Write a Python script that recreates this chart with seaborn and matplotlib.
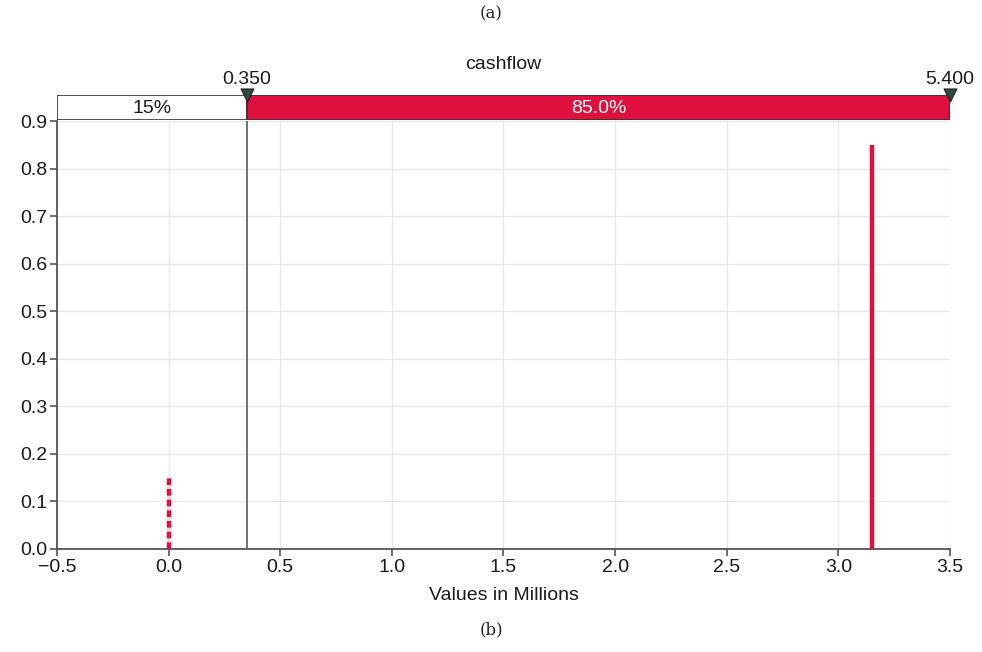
import matplotlib
matplotlib.use("Agg")
import matplotlib.pyplot as plt
import seaborn as sns
import pandas as pd

# Discrete outcomes of the cashflow (in millions) and their probabilities
outcome_values = [0.0, 3.15]
outcome_probs = [0.15, 0.85]
outcome_styles = ["dashed", "solid"]

# Delimiter markers shown above the plot and the share on each side
delimiters = [0.350, 5.400]
delimiter_labels = ["0.350", "5.400"]
band_shares = ["15%", "85.0%"]

x_ticks = [-0.5, 0.0, 0.5, 1.0, 1.5, 2.0, 2.5, 3.0, 3.5]
y_ticks = [0.0, 0.1, 0.2, 0.3, 0.4, 0.5, 0.6, 0.7, 0.8, 0.9]

RED = "#E0103E"
SPINE = "#555555"
FS = 14

sns.set_theme(style="whitegrid")
plt.rcParams["font.family"] = ["Liberation Sans", "DejaVu Sans"]

fig = plt.figure(figsize=(9.82, 6.52), dpi=100)
ax = fig.add_axes([0.058, 0.158, 0.9094, 0.6564])
band = fig.add_axes([0.058, 0.816, 0.9094, 0.038], sharex=ax)

df = pd.DataFrame({"value": outcome_values, "prob": outcome_probs,
                   "style": outcome_styles})

# Probability stems
for _, row in df.iterrows():
    if row["style"] == "dashed":
        ax.vlines(row["value"], 0, row["prob"], color=RED, lw=3.2,
                  linestyles=(0, (1.5, 0.9)), gapcolor="#f7d3db", zorder=3)
    else:
        ax.vlines(row["value"], 0, row["prob"], color=RED, lw=3.2, zorder=3)

# Delimiter line at the lower cut-off
ax.axvline(delimiters[0], color="#666666", lw=1.3, zorder=2)

ax.set_xlim(-0.5, 3.5)
ax.set_ylim(0, 0.9)
ax.set_xticks(x_ticks)
ax.set_yticks(y_ticks)
ax.set_xticklabels([f"{t:.1f}".replace("-", "\u2212") for t in x_ticks])
ax.set_yticklabels([f"{t:.1f}" for t in y_ticks])
ax.grid(True, color="#e6e6e6", lw=0.9)
ax.set_facecolor("white")
for side in ["top", "right"]:
    ax.spines[side].set_visible(False)
for side in ["left", "bottom"]:
    ax.spines[side].set_color(SPINE)
    ax.spines[side].set_linewidth(1.3)
ax.tick_params(axis="both", labelsize=FS, colors="#1a1a1a", length=5,
               width=1.2, color=SPINE, pad=2, bottom=True, left=True)
ax.set_xlabel("Values in Millions", fontsize=FS, labelpad=8, color="#1a1a1a")

# Top band splitting the range at the delimiter
band.set_ylim(0, 1)
band.axis("off")
band.barh(0.5, delimiters[0] - (-0.5), left=-0.5, height=1.0,
          color="white", edgecolor="#333333", lw=1.2)
band.barh(0.5, 3.5 - delimiters[0], left=delimiters[0], height=1.0,
          color=RED, edgecolor="#333333", lw=1.2)
band.text((-0.5 + delimiters[0]) / 2, 0.45, band_shares[0], ha="center",
          va="center", fontsize=FS, color="#1a1a1a")
band.text((delimiters[0] + 3.5) / 2, 0.45, band_shares[1], ha="center",
          va="center", fontsize=FS, color="white")

marker_x = [delimiters[0], 3.5]
sns.scatterplot(x=marker_x, y=[1.0, 1.0], marker="v", s=90,
                color="#2d4a3e", edgecolor="#111111", linewidth=0.6,
                ax=band, clip_on=False, zorder=5, legend=False)
for mx, lab in zip(marker_x, delimiter_labels):
    band.text(mx, 1.3, lab, ha="center", va="bottom", fontsize=FS,
              color="#1a1a1a")

band.set_title("cashflow", fontsize=FS, pad=19, color="#1a1a1a")

fig.text(0.5, 0.978, "(a)", ha="center", va="center", fontsize=12,
         family=["DejaVu Serif"], color="#222222")
fig.text(0.5, 0.034, "(b)", ha="center", va="center", fontsize=12,
         family=["DejaVu Serif"], color="#222222")

fig.savefig("out.png", dpi=100, facecolor="white")
